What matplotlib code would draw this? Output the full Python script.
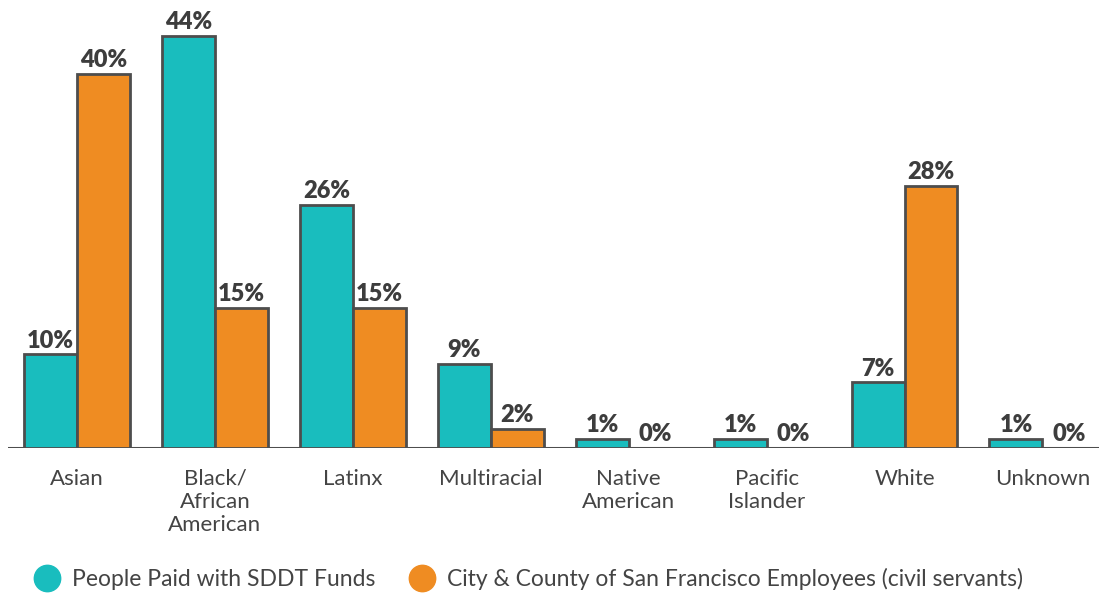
import numpy as np
import matplotlib.pyplot as plt
from matplotlib.lines import Line2D

categories = ["Asian", "Black/\nAfrican\nAmerican", "Latinx", "Multiracial",
              "Native\nAmerican", "Pacific\nIslander", "White", "Unknown"]
sddt = [10, 44, 26, 9, 1, 1, 7, 1]
city = [40, 15, 15, 2, 0, 0, 28, 0]
series_names = ["People Paid with SDDT Funds",
                "City & County of San Francisco Employees (civil servants)"]

teal = "#19bdbe"
orange = "#ef8c22"
edge = "#4d4d4d"
text_col = "#444444"

plt.rcParams['font.family'] = ['Lato', 'DejaVu Sans']

fig = plt.figure(figsize=(10.99, 5.95), dpi=100)
ax = fig.add_axes([8 / 1099, 147 / 595, 1 - 8 / 1099, 438 / 595])

x = np.arange(len(categories))
w = 0.384
b1 = ax.bar(x - w / 2, sddt, w, color=teal, edgecolor=edge, linewidth=2)
b2 = ax.bar(x + w / 2, city, w, color=orange, edgecolor=edge, linewidth=2)

for bars, vals in ((b1, sddt), (b2, city)):
    for r, v in zip(bars, vals):
        ax.text(r.get_x() + r.get_width() / 2, v + 0.3, f"{v}%",
                ha="center", va="bottom", fontsize=17, fontweight="heavy",
                color="#3d3d3d")

ax.set_xlim(-0.5, 7.41)
ax.set_ylim(0, 46.8)
ax.axhline(0, color=edge, linewidth=2.2, zorder=0)
for s in ax.spines.values():
    s.set_visible(False)
ax.set_yticks([])
ax.set_xticks(x)
ax.set_xticklabels(categories, fontsize=16, color=text_col, linespacing=1.2)
ax.tick_params(axis="x", length=0, pad=15)

handles = [Line2D([], [], marker="o", linestyle="", markersize=19,
                  markerfacecolor=c, markeredgecolor=c) for c in (teal, orange)]
fig.legend(handles, series_names, loc="center left", bbox_to_anchor=(0.008, 0.027),
           ncol=2, frameon=False, handletextpad=0.35, handlelength=1.5,
           columnspacing=1.3, prop={"size": 16.5}, labelcolor=text_col)

fig.savefig("out.png", dpi=100)
